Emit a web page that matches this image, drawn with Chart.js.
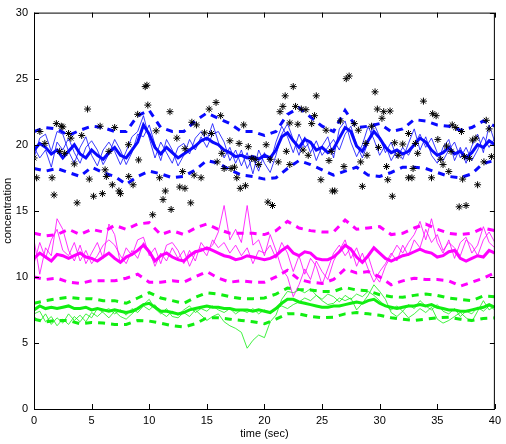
<!DOCTYPE html>
<html>
<head>
<meta charset="utf-8">
<script src="https://cdn.jsdelivr.net/npm/chart.js@4.4.1/dist/chart.umd.min.js"></script>
<style>
  html, body { margin: 0; padding: 0; background: #fff; }
  #wrap { width: 506px; height: 444px; position: relative; }
</style>
</head>
<body>
<div id="wrap"><canvas id="chart-conc"></canvas></div>
<script>
// time grids (sec)
const TIME_FINE = [
  0, 0.5, 1, 1.5, 2, 2.5, 3, 3.5, 4, 4.5, 5, 5.5, 6, 6.5, 7, 7.5, 8, 8.5, 9, 9.5,
  10, 10.5, 11, 11.5, 12, 12.5, 13, 13.5, 14, 14.5, 15, 15.5, 16, 16.5, 17, 17.5, 18, 18.5, 19, 19.5,
  20, 20.5, 21, 21.5, 22, 22.5, 23, 23.5, 24, 24.5, 25, 25.5, 26, 26.5, 27, 27.5, 28, 28.5, 29, 29.5,
  30, 30.5, 31, 31.5, 32, 32.5, 33, 33.5, 34, 34.5, 35, 35.5, 36, 36.5, 37, 37.5, 38, 38.5, 39, 39.5, 40,
];
const TIME_COARSE = [
  0, 1, 2, 3, 4, 5, 6, 7, 8, 9, 10, 11, 12, 13, 14, 15, 16, 17, 18, 19, 20,
  21, 22, 23, 24, 25, 26, 27, 28, 29, 30, 31, 32, 33, 34, 35, 36, 37, 38, 39, 40,
];

// blue group
const BLUE_MEAN = [
  19.6, 20.1, 19.8, 19.3, 19.6, 19.0, 19.5, 20.0, 19.3, 19.0,
  19.6, 19.2, 18.9, 19.4, 19.8, 19.2, 19.0, 19.6, 20.2, 21.5,
  20.8, 19.8, 19.3, 19.8, 19.4, 19.0, 19.3, 19.6, 19.9, 20.3,
  20.5, 20.2, 20.0, 19.6, 19.4, 19.1, 19.2, 19.0, 19.1, 18.9,
  19.2, 19.0, 19.6, 20.6, 20.9, 20.3, 19.8, 20.4, 20.2, 19.6,
  19.8, 19.4, 19.7, 20.5, 21.3, 21.0, 19.9, 19.5, 20.3, 21.0,
  20.5, 19.8, 19.4, 19.6, 19.3, 19.5, 20.0, 20.5, 20.2, 19.6,
  19.2, 19.4, 19.8, 19.3, 19.5, 19.0, 19.4, 20.0, 19.8, 20.3,
  20.0,
];
const BLUE_UPPER = [
  21.0, 21.3, 21.2, 20.7, 21.1, 21.4, 21.3, 21.0, 21.0, 22.2, 22.6, 21.3, 21.0, 21.0,
  21.8, 22.4, 22.0, 21.6, 21.0, 21.0, 20.7, 21.0, 22.3, 22.8, 22.1, 21.4, 21.0, 22.6,
  21.3, 21.4, 21.6, 21.0, 21.2, 21.9, 21.8, 21.5, 21.4, 21.1, 21.3, 21.8, 21.4,
];
const BLUE_LOWER = [
  18.2, 18.0, 18.2, 17.9, 17.6, 18.3, 17.9, 17.6, 17.0, 17.6, 18.0, 17.8, 17.5, 17.6,
  18.1, 18.8, 18.6, 18.1, 17.7, 17.6, 17.4, 17.5, 18.2, 18.8, 18.5, 18.1, 17.7, 18.0,
  18.3, 17.7, 17.6, 17.9, 18.3, 18.3, 18.2, 17.9, 17.6, 17.5, 17.8, 18.6, 18.8,
];
const BLUE_RUN_A = [
  19.0, 20.5, 20.8, 19.5, 21.0, 20.8, 19.5, 18.6, 19.8, 20.6,
  19.2, 18.4, 19.6, 20.2, 19.5, 18.5, 19.5, 20.6, 21.0, 22.2,
  20.5, 19.0, 20.2, 19.4, 18.6, 19.8, 20.1, 19.3, 20.5, 21.0,
  20.3, 21.6, 20.2, 19.0, 19.8, 18.6, 19.6, 18.2, 19.0, 18.0,
  19.4, 18.6, 20.2, 21.4, 20.6, 19.4, 20.8, 19.8, 20.2, 18.8,
  19.9, 20.6, 19.0, 21.2, 21.8, 20.2, 19.1, 20.0, 21.4, 20.4,
  19.2, 20.0, 18.8, 19.6, 18.9, 20.1, 21.2, 19.6, 20.6, 19.2,
  18.6, 19.8, 20.4, 18.8, 19.8, 18.6, 19.9, 20.8, 19.4, 21.5,
  20.2,
];
const BLUE_RUN_B = [
  19.8, 19.0, 19.6, 18.3, 20.2, 19.6, 20.5, 19.4, 18.6, 19.8,
  20.3, 19.6, 18.5, 19.3, 20.4, 19.6, 18.5, 19.4, 20.8, 20.6,
  21.5, 20.0, 18.8, 20.4, 19.6, 18.4, 19.2, 20.4, 19.6, 20.6,
  19.8, 20.8, 21.0, 20.2, 18.8, 19.6, 18.4, 19.4, 17.8, 19.6,
  18.6, 17.9, 19.2, 20.8, 21.6, 20.4, 19.2, 20.6, 19.4, 20.3,
  19.2, 19.8, 20.4, 19.6, 20.8, 21.4, 20.0, 19.0, 20.2, 21.6,
  20.6, 19.4, 20.2, 19.0, 19.8, 19.2, 20.0, 20.8, 19.8, 20.5,
  19.4, 18.8, 19.6, 20.2, 19.0, 19.8, 18.8, 19.6, 20.6, 19.8,
  20.5,
];

// magenta group
const MAG_MEAN = [
  11.4, 11.8, 11.5, 11.2, 11.7, 11.6, 11.4, 11.6, 11.8, 11.5,
  11.4, 11.2, 11.5, 11.8, 11.4, 11.1, 11.5, 11.7, 12.0, 12.4,
  11.9, 11.2, 11.6, 11.8, 11.5, 11.3, 11.2, 11.6, 11.9, 12.0,
  12.2, 12.0, 11.8, 11.6, 11.5, 11.3, 11.4, 11.6, 11.5, 11.4,
  11.3, 11.4, 11.6, 12.0, 12.3, 11.8, 11.6, 11.9, 11.8, 11.4,
  11.3, 11.3, 11.5, 11.9, 12.4, 12.1, 11.5, 11.1, 11.6, 12.2,
  11.8, 11.4, 11.2, 11.4, 11.6, 11.7, 11.9, 12.1, 11.9, 11.8,
  11.5, 11.6, 11.9, 12.0, 11.4, 11.2, 11.4, 11.6, 11.5, 12.0,
  11.8,
];
const MAG_UPPER = [
  13.3, 13.1, 13.2, 13.6, 13.2, 13.6, 13.4, 13.9, 13.6, 14.0, 14.1, 13.2, 13.5, 13.2,
  13.7, 14.0, 13.6, 13.3, 13.3, 13.3, 13.2, 13.5, 14.2, 13.7, 13.5, 13.4, 13.4, 14.3,
  13.6, 13.7, 13.8, 13.2, 13.3, 13.7, 14.0, 13.6, 13.3, 13.2, 13.3, 13.7, 13.5,
];
const MAG_LOWER = [
  10.0, 9.8, 9.9, 9.6, 9.5, 9.7, 9.7, 9.7, 9.9, 10.2, 9.6, 9.6, 9.7, 9.6,
  10.0, 10.4, 9.9, 9.6, 9.7, 9.6, 9.6, 10.0, 10.5, 9.8, 9.6, 9.5, 9.8, 10.6,
  10.3, 10.4, 10.0, 9.4, 9.7, 9.9, 9.8, 9.8, 9.7, 9.3, 9.6, 9.9, 10.3,
];
const MAG_RUN_A = [
  12.8, 10.2, 12.2, 11.6, 14.4, 13.6, 12.0, 11.2, 12.4, 11.0,
  11.8, 12.6, 11.4, 14.0, 13.2, 11.0, 12.2, 11.6, 12.8, 13.0,
  11.6, 12.2, 11.0, 12.4, 12.6, 12.0, 11.0, 12.0, 11.2, 12.6,
  12.0, 12.4, 13.4, 15.4, 12.8, 13.6, 12.6, 15.4, 12.4, 12.8,
  11.6, 13.2, 12.0, 10.6, 10.0, 8.5, 9.4, 10.6, 9.8, 11.2,
  10.4, 9.8, 11.2, 12.0, 12.8, 11.4, 12.2, 11.0, 11.6, 10.2,
  9.6, 10.8, 11.6, 12.4, 11.8, 12.6, 13.2, 14.2, 12.8, 14.4,
  12.6, 11.8, 12.8, 11.4, 12.6, 13.0, 11.8, 12.4, 13.8, 12.6,
  12.2,
];
const MAG_RUN_B = [
  11.0, 12.6, 11.4, 12.8, 13.6, 12.0, 11.6, 12.6, 11.2, 12.0,
  11.0, 11.6, 12.4, 12.8, 12.4, 11.6, 11.0, 12.0, 11.4, 12.6,
  12.0, 10.8, 11.8, 11.2, 12.2, 11.4, 12.0, 10.8, 11.8, 12.2,
  11.6, 12.8, 12.2, 12.6, 11.8, 12.4, 11.6, 12.2, 11.0, 12.0,
  11.8, 12.4, 11.4, 12.6, 11.8, 10.4, 11.6, 10.2, 11.4, 10.8,
  9.4, 10.6, 11.8, 12.4, 11.6, 12.2, 10.8, 11.8, 10.6, 9.6,
  10.4, 11.0, 11.8, 11.2, 12.4, 11.6, 12.8, 12.2, 13.6, 12.6,
  13.2, 12.0, 12.6, 12.2, 11.6, 12.8, 12.4, 11.6, 12.8, 13.4,
  12.6,
];

// green group
const GREEN_MEAN = [
  7.5, 7.8, 7.6, 7.7, 7.6, 7.7, 7.8, 7.6, 7.6, 7.7,
  7.5, 7.6, 7.5, 7.4, 7.5, 7.4, 7.3, 7.4, 7.6, 7.9,
  8.0, 7.7, 7.4, 7.4, 7.3, 7.2, 7.3, 7.5, 7.6, 7.7,
  7.8, 7.7, 7.7, 7.6, 7.6, 7.5, 7.5, 7.5, 7.4, 7.5,
  7.4, 7.3, 7.6, 8.0, 8.3, 8.3, 8.1, 8.0, 7.9, 7.8,
  7.7, 7.7, 7.8, 7.8, 7.9, 8.0, 8.1, 8.0, 8.2, 8.3,
  8.0, 7.8, 7.7, 7.6, 7.7, 7.8, 7.8, 7.9, 7.8, 7.9,
  7.7, 7.6, 7.5, 7.5, 7.4, 7.4, 7.5, 7.6, 7.7, 7.9,
  7.7,
];
const GREEN_UPPER = [
  8.0, 8.2, 8.35, 8.45, 8.35, 8.35, 8.2, 8.2, 8.0, 8.4, 8.8, 8.4, 8.2, 8.0,
  8.45, 8.8, 8.7, 8.5, 8.35, 8.35, 8.4, 8.7, 9.15, 9.05, 9.0, 8.9, 8.9, 9.2,
  9.0, 8.95, 8.65, 8.5, 8.45, 8.6, 8.7, 8.6, 8.4, 8.3, 8.2, 8.55, 8.5,
];
const GREEN_LOWER = [
  6.8, 6.6, 6.7, 6.7, 6.45, 6.55, 6.5, 6.4, 6.4, 6.7, 6.65, 6.5, 6.3, 6.2,
  6.45, 6.9, 6.9, 6.8, 6.7, 6.6, 6.45, 6.8, 7.2, 7.2, 7.0, 6.9, 6.95, 7.2,
  7.3, 7.2, 7.1, 6.9, 6.8, 6.7, 6.8, 6.9, 6.95, 6.8, 6.7, 6.85, 6.9,
];
const GREEN_RUN_A = [
  7.2, 7.4, 6.6, 7.0, 6.3, 6.8, 6.4, 7.0, 6.6, 7.2,
  6.9, 7.6, 7.3, 6.9, 7.4, 7.0, 6.8, 7.2, 7.6, 7.9,
  8.3, 7.6, 7.2, 7.6, 7.0, 6.9, 7.3, 7.0, 7.5, 7.1,
  6.7, 7.0, 7.2, 6.6, 6.3, 6.1, 5.8, 4.6, 5.2, 5.6,
  5.4, 6.6, 7.1, 8.3, 8.9, 8.8, 9.0, 8.8, 9.1, 8.6,
  8.2, 7.9, 8.0, 8.4, 8.2, 8.4, 7.5, 8.0, 8.6, 9.4,
  8.9, 8.3, 7.3, 7.0, 7.4, 6.9, 7.2, 7.6, 7.3, 7.7,
  6.8, 6.5, 6.7, 7.0, 7.3, 6.9, 6.6, 7.4, 8.2, 7.5,
  7.8,
];
const GREEN_RUN_B = [
  7.0, 6.6, 7.2, 6.4, 6.9, 6.5, 7.2, 6.7, 7.1, 6.6,
  7.3, 7.0, 7.4, 7.6, 7.2, 7.5, 7.1, 7.6, 7.3, 7.8,
  7.5, 7.9, 7.3, 7.0, 7.4, 7.1, 7.5, 7.8, 7.3, 7.6,
  7.4, 7.8, 7.5, 7.3, 7.6, 7.2, 7.5, 7.3, 7.6, 7.2,
  7.5, 7.3, 7.6, 7.8, 7.6, 7.9, 8.1, 8.4, 8.2, 8.6,
  8.3, 8.7, 8.5, 8.1, 8.6, 8.3, 8.7, 8.5, 8.9, 8.6,
  8.2, 7.8, 7.5, 7.8, 7.4, 7.9, 7.6, 8.2, 7.8, 7.5,
  7.9, 7.4, 7.2, 7.6, 7.0, 7.4, 7.2, 7.7, 7.4, 7.8,
  7.5,
];

// observations (asterisks)
const OBS_TIME = [
  9.65, 9.8, 4.65, 9.88, 11.8, 9.0, 1.94, 2.37, 2.5, 0.51, 3.0, 3.2, 4.14, 5.74, 7.0, 10.6, 12.4,
  0.94, 8.2, 6.5, 2.23, 2.66, 0.0, 3.5, 9.08, 6.17, 0.23, 1.57, 4.8, 6.28, 8.22, 8.6, 6.8, 7.37,
  7.5, 10.9, 11.4, 11.2, 11.9, 10.3, 1.74, 5.17, 5.94, 3.74, 12.9, 12.65, 13.1, 13.1,
  22.5, 21.8, 24.5, 15.8, 15.2, 16.2, 21.6, 22.7, 23.2, 23.6, 21.35, 24.35, 13.7, 14.1, 18.2,
  22.2, 22.9, 24.1, 25.35, 14.8, 15.4, 17.0, 17.8, 18.6, 20.15, 16.3, 18.9, 19.2, 20.5, 21.9,
  23.35, 23.8, 25.8, 15.9, 13.9, 14.5, 16.5, 17.1, 17.4, 19.5, 21.2, 22.2, 17.6, 17.9, 18.35,
  24.9, 25.9, 13.6, 20.3, 20.7,
  27.1, 27.35, 29.6, 33.8, 29.8, 30.35, 30.9, 26.6, 27.8, 28.15, 29.3, 30.2, 34.6, 34.9, 36.3,
  36.6, 37.1, 39.25, 39.5, 32.5, 38.05, 38.35, 31.3, 32.0, 28.8, 33.1, 35.05, 28.9, 29.9, 31.6,
  33.3, 35.8, 36.2, 37.35, 37.8, 39.7, 25.6, 28.35, 35.3, 35.5, 32.9, 30.6, 26.9, 39.05, 36.0,
  30.7, 32.5, 32.8, 34.5, 37.2, 28.5, 38.5, 26.1, 31.1, 36.9, 37.5,
];
const OBS_CONC = [
  24.4, 24.5, 22.7, 23.0, 22.5, 22.3, 21.6, 21.4, 21.35, 21.0, 20.85, 20.5, 20.7, 21.4, 21.3, 21.05, 20.5,
  20.1, 20.0, 19.5, 19.5, 19.35, 19.0, 18.55, 18.85, 18.1, 17.5, 17.5, 17.4, 17.6, 17.6, 16.97, 16.97, 16.5,
  16.3, 17.5, 16.5, 15.85, 15.1, 14.7, 16.2, 16.1, 16.3, 15.6, 17.97, 16.8, 16.7, 19.7,
  24.4, 23.7, 23.7, 23.2, 22.7, 22.2, 22.9, 22.9, 22.7, 22.65, 22.5, 22.2, 21.7, 21.5, 21.5,
  21.65, 21.55, 21.6, 21.1, 20.9, 20.85, 20.3, 20.1, 19.85, 20.0, 19.35, 18.97, 18.9, 18.9, 19.5,
  19.6, 19.2, 19.5, 18.7, 17.7, 17.5, 18.2, 18.2, 18.3, 18.5, 18.7, 18.5, 17.5, 16.7, 16.9,
  17.35, 16.5, 15.6, 15.66, 15.4,
  25.0, 25.2, 24.0, 23.3, 22.7, 22.5, 22.55, 21.8, 21.6, 21.1, 21.4, 22.0, 22.35, 22.2, 21.5,
  21.3, 21.0, 21.85, 21.2, 20.85, 20.35, 20.5, 20.15, 20.05, 20.1, 20.1, 20.4, 19.2, 19.8, 19.2,
  19.35, 19.9, 19.5, 19.1, 18.97, 19.1, 18.8, 18.7, 18.9, 18.5, 18.2, 18.35, 18.35, 18.7, 17.97,
  17.35, 17.5, 17.5, 17.5, 17.4, 16.85, 16.97, 16.5, 16.1, 15.3, 15.4,
];

// axis ticks
const X_TICKS = [0, 5, 10, 15, 20, 25, 30, 35, 40];
const Y_TICKS = [0, 5, 10, 15, 20, 25, 30];

const FONT = { family: "'Liberation Sans', Arial, Helvetica, sans-serif", size: 11 };

const pts = (xs, ys) => ys.map((v, i) => ({ x: xs[i], y: v }));

const thin = (color, xs, ys) => ({
  data: pts(xs, ys),
  showLine: true,
  borderColor: color,
  borderWidth: 0.8,
  pointRadius: 0,
  tension: 0,
});
const mean = (color, ys) => ({
  data: pts(TIME_FINE, ys),
  showLine: true,
  borderColor: color,
  borderWidth: 3,
  pointRadius: 0,
  tension: 0,
});
const band = (color, ys) => ({
  data: pts(TIME_COARSE, ys),
  showLine: true,
  borderColor: color,
  borderWidth: 3,
  borderDash: [7, 6],
  pointRadius: 0,
  tension: 0,
});

const BLUE = "#0a0aff";
const MAGENTA = "#ff00ff";
const GREEN = "#11ee11";

// box with inward ticks on all four sides
const boxTicks = {
  id: "boxTicks",
  afterDraw(chart) {
    const { ctx, chartArea: a, scales } = chart;
    const len = 5;
    ctx.save();
    ctx.strokeStyle = "#000";
    ctx.lineWidth = 1;
    ctx.strokeRect(a.left + 0.5, a.top + 0.5, a.right - a.left - 1, a.bottom - a.top);
    ctx.beginPath();
    X_TICKS.forEach((v) => {
      const px = Math.round(scales.x.getPixelForValue(v)) + 0.5;
      ctx.moveTo(px, a.bottom);
      ctx.lineTo(px, a.bottom - len);
      ctx.moveTo(px, a.top);
      ctx.lineTo(px, a.top + len);
    });
    Y_TICKS.forEach((v) => {
      const py = Math.round(scales.y.getPixelForValue(v)) + 0.5;
      ctx.moveTo(a.left, py);
      ctx.lineTo(a.left + len, py);
      ctx.moveTo(a.right, py);
      ctx.lineTo(a.right - len, py);
    });
    ctx.stroke();
    ctx.restore();
  },
};

const CONFIG = {
  type: "scatter",
  data: {
    datasets: [
      {
        data: pts(OBS_TIME, OBS_CONC),
        pointStyle: "star",
        pointRadius: 3.5,
        pointBorderColor: "#000",
        pointBorderWidth: 1,
        showLine: false,
      },
      thin(BLUE, TIME_FINE, BLUE_RUN_A),
      thin(BLUE, TIME_FINE, BLUE_RUN_B),
      thin(MAGENTA, TIME_FINE, MAG_RUN_A),
      thin(MAGENTA, TIME_FINE, MAG_RUN_B),
      thin(GREEN, TIME_FINE, GREEN_RUN_A),
      thin(GREEN, TIME_FINE, GREEN_RUN_B),
      mean(BLUE, BLUE_MEAN),
      band(BLUE, BLUE_UPPER),
      band(BLUE, BLUE_LOWER),
      mean(MAGENTA, MAG_MEAN),
      band(MAGENTA, MAG_UPPER),
      band(MAGENTA, MAG_LOWER),
      mean(GREEN, GREEN_MEAN),
      band(GREEN, GREEN_UPPER),
      band(GREEN, GREEN_LOWER),
    ],
  },
  options: {
    responsive: true,
    maintainAspectRatio: false,
    animation: false,
    layout: { padding: { top: 10, right: 5, left: 0, bottom: 0 } },
    plugins: {
      legend: { display: false },
      tooltip: { enabled: false },
    },
    scales: {
      x: {
        type: "linear",
        min: 0,
        max: 40,
        afterFit: (s) => { s.height = 35; },
        afterBuildTicks: (s) => { s.ticks = X_TICKS.map((v) => ({ value: v })); },
        grid: { display: false, drawTicks: false },
        border: { display: false },
        ticks: { color: "#000", font: FONT, padding: 5, maxRotation: 0 },
        title: { display: true, text: "time (sec)", color: "#000", font: FONT, padding: { top: 0, bottom: 3 } },
      },
      y: {
        type: "linear",
        min: 0,
        max: 30,
        afterFit: (s) => { s.width = 34; },
        afterBuildTicks: (s) => { s.ticks = Y_TICKS.map((v) => ({ value: v })); },
        grid: { display: false, drawTicks: false },
        border: { display: false },
        ticks: { color: "#000", font: FONT, padding: 6 },
        title: { display: true, text: "concentration", color: "#000", font: FONT, padding: { top: 1, bottom: 0 } },
      },
    },
  },
  plugins: [boxTicks],
};

new Chart(document.getElementById("chart-conc"), CONFIG);
</script>
</body>
</html>
